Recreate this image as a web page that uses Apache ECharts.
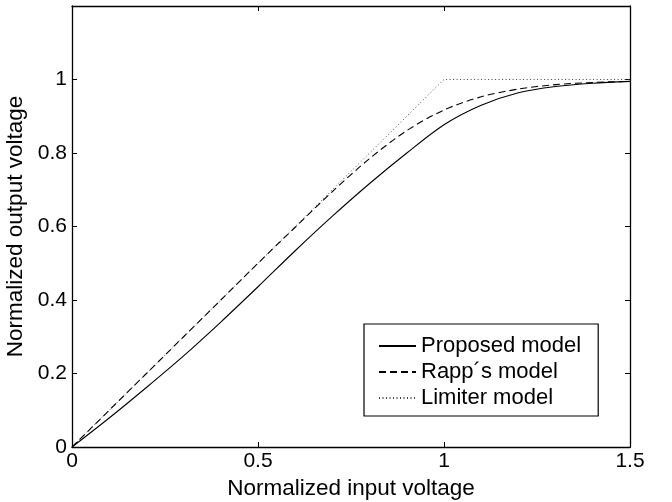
<!DOCTYPE html>
<html>
<head>
<meta charset="utf-8">
<script src="https://cdn.jsdelivr.net/npm/echarts@6/dist/echarts.min.js"></script>
<style>html,body{margin:0;padding:0;background:#fff}#c{width:672px;height:502px}</style>
</head>
<body>
<div id="c"></div>
<script>
var xs = [0, 0.1, 0.2, 0.3, 0.4, 0.5, 0.6, 0.7, 0.8, 0.9, 1.0, 1.1, 1.2, 1.3, 1.4, 1.5];
var proposed = [0, 0.079, 0.162, 0.248, 0.340, 0.436, 0.534, 0.628, 0.717, 0.800, 0.877, 0.930, 0.964, 0.981, 0.990, 0.995];
var rapp = [0, 0.100, 0.200, 0.300, 0.400, 0.500, 0.598, 0.695, 0.785, 0.861, 0.917, 0.953, 0.974, 0.986, 0.992, 0.995];
var limiterX = [0, 1.0, 1.5];
var limiterY = [0, 1.0, 1.0];
var seriesNames = ['Proposed model', 'Rapp\u00b4s model', 'Limiter model'];
var xTitle = 'Normalized input voltage';
var yTitle = 'Normalized output voltage';

function pairs(a, b) { return a.map(function (v, i) { return [v, b[i]]; }); }

var FONT = 'Liberation Sans';
var chart = echarts.init(document.getElementById('c'), null, { renderer: 'canvas' });
var axisLine = { show: true, onZero: false, lineStyle: { color: '#000', width: 1.3 } };
var tick = { show: true, inside: true, length: 5, lineStyle: { color: '#000', width: 1 } };
chart.setOption({
  animation: false,
  backgroundColor: '#fff',
  grid: { left: 72, right: 42, top: 6, bottom: 55, containLabel: false, outerBoundsMode: 'none' },
  xAxis: [
    { type: 'value', min: 0, max: 1.5, interval: 0.5, position: 'bottom',
      axisLine: axisLine, axisTick: tick, splitLine: { show: false },
      axisLabel: { color: '#000', fontFamily: FONT, fontSize: 21, margin: 4 },
      name: xTitle, nameLocation: 'middle', nameGap: 22,
      nameTextStyle: { color: '#000', fontFamily: FONT, fontSize: 22.5 } },
    { type: 'value', min: 0, max: 1.5, interval: 0.5, position: 'top',
      axisLine: axisLine, axisTick: tick, splitLine: { show: false }, axisLabel: { show: false } }
  ],
  yAxis: [
    { type: 'value', min: 0, max: 1.2, interval: 0.2, position: 'left',
      axisLine: axisLine, axisTick: tick, splitLine: { show: false },
      axisLabel: { color: '#000', fontFamily: FONT, fontSize: 21, margin: 5,
        formatter: function (v) { return v > 1.05 ? '' : String(Math.round(v * 10) / 10); } },
      name: yTitle, nameLocation: 'middle', nameGap: 34,
      nameTextStyle: { color: '#000', fontFamily: FONT, fontSize: 22.5 } },
    { type: 'value', min: 0, max: 1.2, interval: 0.2, position: 'right',
      axisLine: axisLine, axisTick: tick, splitLine: { show: false }, axisLabel: { show: false } }
  ],
  legend: {
    orient: 'vertical', left: 364, top: 324,
    padding: [9, 17, 5, 14], itemGap: 0, itemWidth: 37, itemHeight: 14,
    borderColor: '#000', borderWidth: 1.2, backgroundColor: '#fff', borderRadius: 0,
    itemStyle: { color: 'transparent', borderColor: 'transparent', borderWidth: 0, opacity: 0 },
    textStyle: { color: '#000', fontFamily: FONT, fontSize: 22, lineHeight: 26 },
    data: seriesNames
  },
  series: [
    { name: seriesNames[0], type: 'line', data: pairs(xs, proposed), smooth: 0.3, showSymbol: false, symbol: 'none',
      lineStyle: { color: '#000', width: 1.1, type: 'solid' }, itemStyle: { color: '#000' }, z: 3 },
    { name: seriesNames[1], type: 'line', data: pairs(xs, rapp), smooth: 0.3, showSymbol: false, symbol: 'none',
      lineStyle: { color: '#000', width: 1.1, type: [7, 4] }, itemStyle: { color: '#000' }, z: 2 },
    { name: seriesNames[2], type: 'line', data: pairs(limiterX, limiterY), showSymbol: false, symbol: 'none',
      lineStyle: { color: '#444', width: 1, type: [1, 2.5] }, itemStyle: { color: '#444' }, z: 1 }
  ]
});
</script>
</body>
</html>
